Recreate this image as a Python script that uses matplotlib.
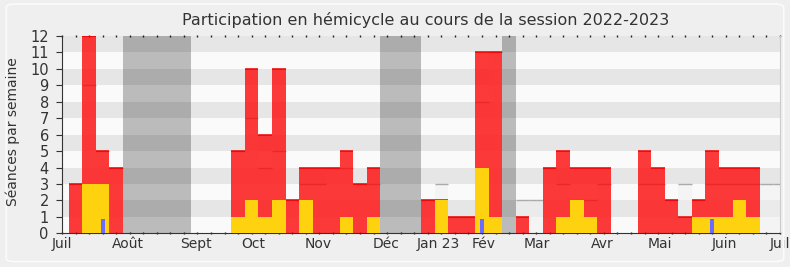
import matplotlib
matplotlib.use("Agg")
import matplotlib.pyplot as plt
from matplotlib.patches import FancyBboxPatch
import numpy as np

# ---- data (one value per week, week 0 = end of June 2022) ----
weeks = list(range(54))
presence = [0, 3, 12, 5, 4, 0, 0, 0, 0, 0,
            0, 0, 0, 5, 10, 6, 10, 2, 4, 4,
            4, 5, 3, 4, 0, 0, 0, 2, 2, 1,
            1, 11, 11, 0, 1, 0, 4, 5, 4, 4,
            4, 0, 0, 5, 4, 2, 1, 2, 5, 4,
            4, 4, 0, 0]
interventions = [0, 0, 3, 3, 0, 0, 0, 0, 0, 0,
                 0, 0, 0, 1, 2, 1, 2, 0, 2, 0,
                 0, 1, 0, 1, 0, 0, 0, 0, 2, 0,
                 0, 4, 1, 0, 0, 0, 0, 1, 2, 1,
                 0, 0, 0, 0, 0, 0, 0, 1, 1, 1,
                 2, 1, 0, 0]
questions = [0, 0, 0, 0.87, 0, 0, 0, 0, 0, 0,
             0, 0, 0, 0, 0, 0, 0, 0, 0, 0,
             0, 0, 0, 0, 0, 0, 0, 0, 0, 0,
             0, 0.87, 0, 0, 0, 0, 0, 0, 0, 0,
             0, 0, 0, 0, 0, 0, 0, 0, 0.87, 0,
             0, 0, 0, 0]
median = [0, 3, 9, 5, 4, 0, 0, 0, 0, 0,
          0, 0, 0, 5, 7, 4, 5, 2, 3, 3,
          4, 4, 3, 3, 0, 0, 0, 2, 3, 1,
          1, 8, 11, 0, 2, 2, 4, 3, 2, 2,
          3, 0, 0, 3, 3, 2, 3, 2, 3, 3,
          3, 3, 3, 3]
vacation_weeks = [5, 6, 7, 8, 9, 24, 25, 26, 33]
month_labels = ["Juil", "Août", "Sept", "Oct", "Nov", "Déc", "Jan 23",
                "Fév", "Mar", "Avr", "Mai", "Juin", "Juil"]
month_pos = [0, 4.87, 9.9, 14.1, 18.9, 23.9, 27.8, 31.1, 35.05, 39.9,
             44.1, 48.9, 53]
y_ticks = list(range(13))

plt.rcParams['font.family'] = ['DejaVu Sans']
TXT = '#333333'

fig = plt.figure(figsize=(7.9, 2.67), dpi=100, facecolor='#efefef')
frame = FancyBboxPatch((0.008, 0.02), 0.984, 0.965,
                       boxstyle="round,pad=0,rounding_size=0.012",
                       transform=fig.transFigure, fc='none',
                       ec='#fbfbfb', lw=1.2, zorder=0)
fig.patches.append(frame)

ax = fig.add_axes([62/790, 1-233.3/267, (780-62)/790, (233.3-36)/267])
ax.set_facecolor('#fafafa')

# stripes
for k in range(12):
    if k % 2 == 1:
        ax.axhspan(k, k+1, color='#e6e6e6', lw=0, zorder=0)

x = np.array(weeks, dtype=float)
pres = np.array(presence, dtype=float)
inter = np.array(interventions, dtype=float)
ques = np.array(questions, dtype=float)
med = np.array(median, dtype=float)

# median area + line
ax.bar(x, med, width=1.0, color='#f0f0f0', alpha=0.55, lw=0, zorder=1)
mm = med > 0
ax.hlines(med[mm], x[mm]-0.5, x[mm]+0.5, color='#aaaaaa', lw=1, zorder=1.5)

# presence bars
ax.bar(x, pres, width=1.0, color=(1, 0, 0, 0.77), lw=0, zorder=2)
pm = pres > 0
ax.hlines(pres[pm], x[pm]-0.5, x[pm]+0.5, color='#ee0000', lw=1.1, zorder=2.1)

# interventions
ax.bar(x, inter, width=1.0, color='#ffd20f', lw=0, zorder=3)
# questions
ax.bar(x, ques, width=0.3, color='#6b6bff', lw=0, zorder=4)

# vacations
for w in vacation_weeks:
    ax.axvspan(w-0.5, w+0.5, color='black', alpha=0.25, lw=0, zorder=5)

ax.set_xlim(0, 53)
ax.set_ylim(0, 12)

ax.set_yticks(y_ticks)
ax.set_yticklabels([str(v) for v in y_ticks], fontsize=10.5, color=TXT)
ax.set_xticks(month_pos)
ax.set_xticklabels(month_labels, fontsize=10, color=TXT)
ax.set_xticks(weeks, minor=True)
ax.xaxis.remove_overlapping_locs = False
ax.tick_params(axis='x', which='major', length=0, pad=3)
ax.tick_params(axis='x', which='minor', bottom=True, length=4, width=0.8,
               color='#333333', direction='out')
ax.tick_params(axis='x', which='minor', top=True, length=1.5, width=1.0,
               color='#222222', direction='inout')
ax.tick_params(axis='y', which='major', length=4.5, width=0.8, color='#333333', pad=5)

ax.spines['top'].set_visible(False)
ax.spines['right'].set_color('#cccccc')
ax.spines['left'].set_color('#333333')
ax.spines['bottom'].set_color('#333333')

fig.text(426/790, 1-20/267, "Participation en hémicycle au cours de la session 2022-2023",
         ha='center', va='center', fontsize=11.5, color=TXT)
fig.text(13/790, 1-132/267, "Séances par semaine", rotation=90,
         ha='center', va='center', fontsize=10, color=TXT)

fig.savefig("out.png", dpi=100, facecolor=fig.get_facecolor())
